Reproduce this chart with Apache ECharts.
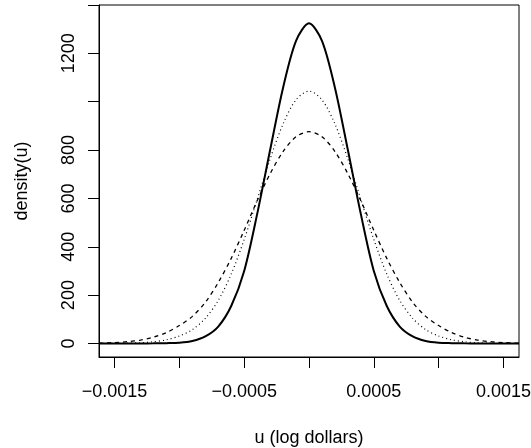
<!DOCTYPE html>
<html>
<head>
<meta charset="utf-8">
<script src="https://cdn.jsdelivr.net/npm/echarts@6/dist/echarts.min.js"></script>
<style>
  html, body { margin: 0; padding: 0; background: #fff; }
  #main { width: 531px; height: 448px; }
</style>
</head>
<body>
<div id="main"></div>
<script>
// u values (log dollars)
var uVals = [-0.00162, -0.0015, -0.0014, -0.0013, -0.0012, -0.0011, -0.0010, -0.0009, -0.0008, -0.0007, -0.0006,
  -0.0005, -0.0004, -0.0003, -0.0002, -0.0001, 0, 0.0001, 0.0002, 0.0003, 0.0004, 0.0005,
  0.0006, 0.0007, 0.0008, 0.0009, 0.0010, 0.0011, 0.0012, 0.0013, 0.0014, 0.0015, 0.00162];

// 三条密度曲线
var solidVals = [0, 0, 0, 0.2, 0.5, 1.2, 3, 10, 29, 70, 155,
  300, 535, 800, 1058, 1252, 1324, 1252, 1058, 800, 535, 300,
  155, 70, 29, 10, 3, 1.2, 0.5, 0.2, 0, 0, 0];
var dottedVals = [0.1, 0.5, 1.3, 3, 7, 15, 31, 57, 104, 178, 287,
  430, 595, 763, 908, 1008, 1044, 1008, 908, 763, 595, 430,
  287, 178, 104, 57, 31, 15, 7, 3, 1.3, 0.5, 0.1];
var dashedVals = [1.2, 3.7, 7.5, 14, 26, 45, 74, 112, 170, 252, 352,
  468, 590, 702, 794, 855, 876, 855, 794, 702, 590, 468,
  352, 252, 170, 112, 74, 45, 26, 14, 7.5, 3.7, 1.2];

var xTicks = [-0.0015, -0.001, -0.0005, 0, 0.0005, 0.001, 0.0015];
var xLabels = [-0.0015, -0.0005, 0.0005, 0.0015];
var yTicks = [0, 200, 400, 600, 800, 1000, 1200, 1400];
var yLabels = [0, 200, 400, 600, 800, 1200];

window.onload = function() {
  var font = 'Liberation Sans, Arial, sans-serif';

  function pairs(ys) {
    var out = [];
    for (var i = 0; i < uVals.length; i++) {
      out.push([uVals[i], ys[i]]);
    }
    return out;
  }

  function fmtX(v) {
    var s = Math.abs(v).toFixed(4);
    return v < 0 ? '\u2212' + s : s;
  }

  var myChart = echarts.init(document.getElementById('main'));

  var option = {
    animation: false,
    backgroundColor: '#fff',
    grid: {
      left: 99, right: 12, top: 5, bottom: 91,
      containLabel: false, outerBoundsMode: 'none',
      show: true, borderColor: '#000', borderWidth: 1
    },
    xAxis: {
      type: 'value',
      min: -0.00162, max: 0.00162,
      name: 'u (log dollars)',
      nameLocation: 'middle',
      nameGap: 72,
      nameTextStyle: { fontFamily: font, fontSize: 18, color: '#000' },
      axisLine: { show: true, onZero: false, lineStyle: { color: '#000', width: 1 } },
      axisTick: { show: true, length: 11, customValues: xTicks, lineStyle: { color: '#000' } },
      axisLabel: {
        customValues: xLabels,
        formatter: fmtX,
        fontFamily: font, fontSize: 18, color: '#000',
        margin: 26, lineHeight: 18
      },
      splitLine: { show: false }
    },
    yAxis: {
      type: 'value',
      min: -56, max: 1400,
      name: 'density(u)',
      nameLocation: 'middle',
      nameGap: 68,
      nameTextStyle: { fontFamily: font, fontSize: 18, color: '#000' },
      axisLine: { show: true, onZero: false, lineStyle: { color: '#000', width: 1 } },
      axisTick: { show: true, length: 11, customValues: yTicks, lineStyle: { color: '#000' } },
      axisLabel: {
        customValues: yLabels,
        formatter: function(v) { return String(v); },
        rotate: 90,
        fontFamily: font, fontSize: 18, color: '#000',
        margin: 21, lineHeight: 18
      },
      splitLine: { show: false }
    },
    series: [
      {
        type: 'line', data: pairs(solidVals), smooth: 0.3,
        showSymbol: false, lineStyle: { color: '#000', width: 2, type: 'solid' }
      },
      {
        type: 'line', data: pairs(dottedVals), smooth: 0.3,
        showSymbol: false, lineStyle: { color: '#000', width: 1.2, type: [1, 3] }
      },
      {
        type: 'line', data: pairs(dashedVals), smooth: 0.3,
        showSymbol: false, lineStyle: { color: '#000', width: 1.3, type: [4, 4] }
      }
    ]
  };
  option && myChart.setOption(option);
}
</script>
</body>
</html>
